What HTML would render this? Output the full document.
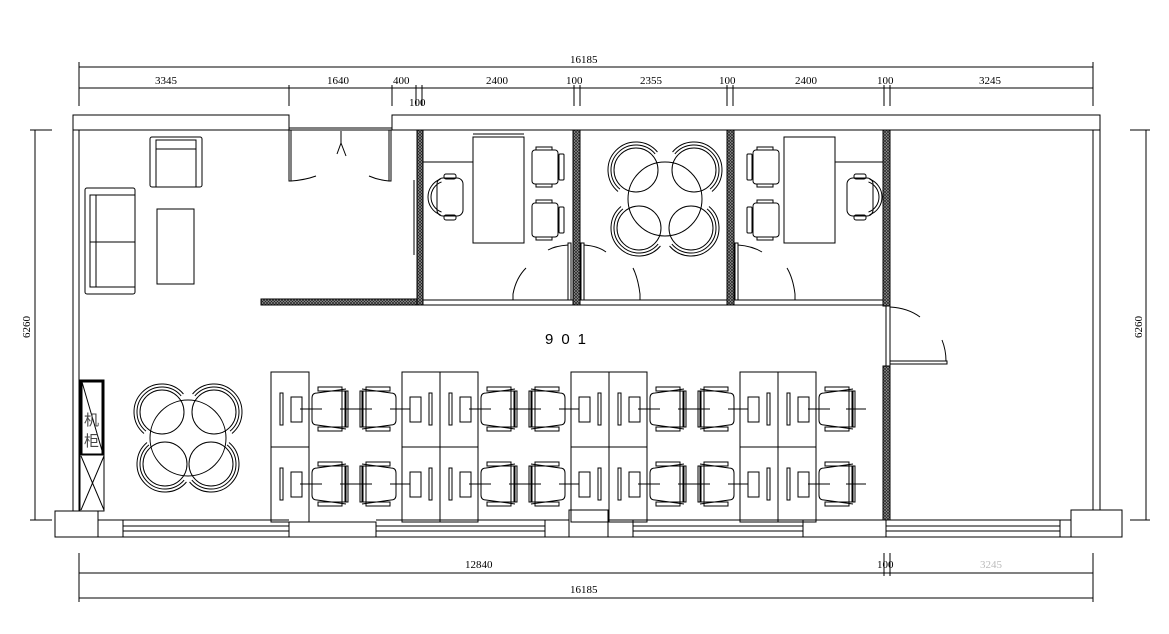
<!DOCTYPE html>
<html><head><meta charset="utf-8"><style>
html,body{margin:0;padding:0;background:#fff}
svg{display:block}
text{font-family:"Liberation Serif","Noto Serif CJK SC",serif;font-size:11px;fill:#000}
</style></head><body>
<svg id="s" width="1169" height="634" viewBox="0 0 1169 634" xmlns="http://www.w3.org/2000/svg">
<defs>
<pattern id="h" width="3" height="3" patternUnits="userSpaceOnUse"><rect width="3" height="3" fill="#999"/><path d="M0 0L3 3M3 0L0 3" stroke="#222" stroke-width="0.7"/></pattern>
</defs>
<g id="g" fill="none" stroke="#000" stroke-width="1">
<line x1="79" y1="67" x2="1093" y2="67"/>
<line x1="79" y1="88" x2="1093" y2="88"/>
<line x1="79" y1="62" x2="79" y2="106"/>
<line x1="1093" y1="62" x2="1093" y2="106"/>
<line x1="289" y1="85" x2="289" y2="106"/>
<line x1="392" y1="85" x2="392" y2="106"/>
<line x1="416" y1="85" x2="416" y2="106"/><line x1="422" y1="85" x2="422" y2="106"/>
<line x1="574" y1="85" x2="574" y2="106"/><line x1="580" y1="85" x2="580" y2="106"/>
<line x1="727" y1="85" x2="727" y2="106"/><line x1="733" y1="85" x2="733" y2="106"/>
<line x1="884" y1="85" x2="884" y2="106"/><line x1="890" y1="85" x2="890" y2="106"/>
<line x1="79" y1="573" x2="1093" y2="573"/>
<line x1="79" y1="598" x2="1093" y2="598"/>
<line x1="79" y1="553" x2="79" y2="602"/>
<line x1="1093" y1="553" x2="1093" y2="602"/>
<line x1="884" y1="553" x2="884" y2="576"/><line x1="890" y1="553" x2="890" y2="576"/>
<line x1="35" y1="130" x2="35" y2="520"/><line x1="30" y1="130" x2="52" y2="130"/><line x1="30" y1="520" x2="52" y2="520"/>
<line x1="1146" y1="130" x2="1146" y2="520"/><line x1="1130" y1="130" x2="1150" y2="130"/><line x1="1130" y1="520" x2="1150" y2="520"/>
<path d="M73 130 L73 115 L289 115 L289 130"/>
<path d="M392 130 L392 115 L1100 115 L1100 510"/>
<line x1="73" y1="130" x2="1100" y2="130"/>
<line x1="289" y1="128" x2="392" y2="128"/>
<line x1="73" y1="130" x2="73" y2="511"/>
<line x1="79" y1="130" x2="79" y2="511"/>
<line x1="1093" y1="130" x2="1093" y2="510"/>
<rect x="289" y="130" width="2" height="51"/>
<rect x="389" y="130" width="2" height="51"/>
<path d="M291 181 Q305 180 316 176"/>
<path d="M389 181 Q378 180 369 176"/>
<path d="M341 131 L341 143 L337 154 M341 143 L346 156"/>
<rect x="55" y="511" width="43" height="26"/>
<rect x="98" y="520" width="25" height="17"/>
<line x1="123" y1="520" x2="289" y2="520"/><line x1="123" y1="526" x2="289" y2="526"/><line x1="123" y1="531" x2="289" y2="531"/><line x1="123" y1="537" x2="289" y2="537"/>
<rect x="289" y="522" width="87" height="15"/>
<line x1="376" y1="520" x2="545" y2="520"/><line x1="376" y1="526" x2="545" y2="526"/><line x1="376" y1="531" x2="545" y2="531"/><line x1="376" y1="537" x2="545" y2="537"/>
<rect x="545" y="520" width="24" height="17"/>
<rect x="569" y="510" width="39" height="27"/>
<rect x="608" y="520" width="25" height="17"/>
<line x1="633" y1="520" x2="803" y2="520"/><line x1="633" y1="526" x2="803" y2="526"/><line x1="633" y1="531" x2="803" y2="531"/><line x1="633" y1="537" x2="803" y2="537"/>
<rect x="803" y="520" width="83" height="17"/>
<line x1="886" y1="520" x2="1060" y2="520"/><line x1="886" y1="526" x2="1060" y2="526"/><line x1="886" y1="531" x2="1060" y2="531"/><line x1="886" y1="537" x2="1060" y2="537"/>
<rect x="1060" y="520" width="11" height="17"/>
<rect x="1071" y="510" width="51" height="27"/>
<rect x="417" y="130" width="6" height="175" fill="url(#h)"/>
<rect x="573" y="130" width="7" height="175" fill="url(#h)"/>
<rect x="727" y="130" width="7" height="175" fill="url(#h)"/>
<rect x="883" y="130" width="7" height="176" fill="url(#h)"/>
<rect x="883" y="366" width="7" height="154" fill="url(#h)"/>
<rect x="261" y="299" width="156" height="6" fill="url(#h)"/>
<line x1="414" y1="180" x2="414" y2="255"/>
<line x1="423" y1="300" x2="573" y2="300"/><line x1="423" y1="305" x2="573" y2="305"/>
<line x1="580" y1="300" x2="727" y2="300"/><line x1="580" y1="305" x2="727" y2="305"/>
<line x1="734" y1="300" x2="883" y2="300"/><line x1="734" y1="305" x2="883" y2="305"/>
<path d="M513 300 L513 294 Q516 278 526 268"/>
<rect x="568" y="243" width="3" height="57"/><path d="M568 245 Q555 246 548 250"/>
<rect x="581" y="243" width="3" height="57"/><path d="M584 245 Q598 246 606 252"/>
<path d="M640 300 L640 294 Q638 278 633 268"/>
<rect x="735" y="243" width="3" height="57"/><path d="M738 245 Q752 246 762 252"/>
<path d="M795 300 L795 294 Q793 278 787 268"/>
<line x1="886" y1="306" x2="886" y2="366"/><line x1="890" y1="306" x2="890" y2="366"/>
<rect x="890" y="361" width="57" height="3"/>
<path d="M890 307 Q908 308 920 317"/>
<path d="M942 340 Q946 350 946 361"/>
<rect x="150" y="137" width="52" height="50" rx="2"/>
<rect x="156" y="140" width="40" height="47"/>
<line x1="156" y1="149" x2="196" y2="149"/>
<rect x="85" y="188" width="50" height="106" rx="2"/>
<rect x="90" y="195" width="45" height="92"/>
<line x1="96" y1="195" x2="96" y2="287"/>
<line x1="90" y1="242" x2="135" y2="242"/>
<rect x="157" y="209" width="37" height="75"/>
<rect x="473" y="137" width="51" height="106"/>
<line x1="423" y1="162" x2="473" y2="162"/>
<line x1="473" y1="134" x2="524" y2="134"/>
<rect x="784" y="137" width="51" height="106"/>
<line x1="835" y1="162" x2="883" y2="162"/>
<rect x="80" y="380" width="24" height="131"/>
<rect x="81.5" y="381.5" width="21" height="73" stroke-width="2"/>
<line x1="82" y1="382" x2="103" y2="454"/>
<line x1="81" y1="456" x2="104" y2="510"/><line x1="104" y1="456" x2="81" y2="510"/>
</g>
<text x="155" y="84" >3345</text>
<text x="327" y="84">1640</text>
<text x="393" y="84">400</text>
<text x="409" y="106">100</text>
<text x="486" y="84">2400</text>
<text x="566" y="84">100</text>
<text x="640" y="84">2355</text>
<text x="719" y="84">100</text>
<text x="795" y="84">2400</text>
<text x="877" y="84">100</text>
<text x="979" y="84">3245</text>
<text x="570" y="63">16185</text>
<text x="465" y="568">12840</text>
<text x="877" y="568">100</text>
<text x="980" y="568" style="fill:#bbb">3245</text>
<text x="570" y="593">16185</text>
<text transform="translate(30 338) rotate(-90)">6260</text>
<text transform="translate(1142 338) rotate(-90)">6260</text>
<text x="545" y="344" style="font-family:'Liberation Sans',sans-serif;font-size:15px;letter-spacing:8px">901</text>
<text x="84" y="425" style="font-family:'Liberation Sans','Noto Sans CJK SC',sans-serif;font-size:15px;fill:#444">机</text>
<text x="84" y="446" style="font-family:'Liberation Sans','Noto Sans CJK SC',sans-serif;font-size:15px;fill:#444">柜</text>
</svg>
<script>
var g=document.getElementById('g');var NS='http://www.w3.org/2000/svg';
function el(t,a){var e=document.createElementNS(NS,t);for(var k in a)e.setAttribute(k,a[k]);g.appendChild(e);return e;}
function R(x,y,w,h,rx){el('rect',{x:x,y:y,width:w,height:h,rx:rx||0});}
function L(a,b,c,d){el('line',{x1:a,y1:b,x2:c,y2:d});}
function C(x,y,r){el('circle',{cx:x,cy:y,r:r});}
function arc(cx,cy,r,a1,a2){var p=function(a){return [cx+r*Math.cos(a*Math.PI/180),cy+r*Math.sin(a*Math.PI/180)]};var s=p(a1),e=p(a2);el('path',{d:'M'+s[0]+' '+s[1]+' A'+r+' '+r+' 0 '+((a2-a1)>180?1:0)+' 1 '+e[0]+' '+e[1]});}
function roundTable(cx,cy,R0,off,r){C(cx,cy,R0);
 [[-off,-off,225],[off,-off,315],[-off+3,off,135],[off-3,off,45]].forEach(function(q){var x=cx+q[0],y=cy+q[1],c=q[2];C(x,y,r);arc(x,y,r+3,c-95,c+95);arc(x,y,r+6,c-95,c+95);});}
roundTable(188,438,38,26,22);
roundTable(665,199,37,29,22);
function guest(x,y,dir){R(x,y,26,34,3);if(dir>0){R(x+27,y+4,5,26,1);}else{R(x-6,y+4,5,26,1);}R(x+4,y-3,16,3);R(x+4,y+34,16,3);}
guest(532,150,1);guest(532,203,1);
guest(753,150,-1);guest(753,203,-1);
function exec(x,y,dir){R(x,y,26,38,6);R(x+7,y-4,12,5,2);R(x+7,y+37,12,5,2);if(dir<0){arc(x+10,y+19,19,110,250);arc(x+10,y+19,16,110,250);}else{arc(x+16,y+19,19,-70,70);arc(x+16,y+19,16,-70,70);}}
exec(437,178,-1);exec(847,178,1);
function table(x,side){[372,447].forEach(function(y){R(x,y,38,75);var cy=y+37;if(side>0){R(x+9,cy-16,3,32);R(x+20,cy-12,11,25);}else{R(x+27,cy-16,3,32);R(x+8,cy-12,11,25);}});}
function chair(x,cy,dir){el('path',{d:dir>0?('M'+(x+34)+' '+(cy-20)+' L'+(x+5)+' '+(cy-16)+' Q'+x+' '+(cy-16)+' '+x+' '+(cy-11)+' L'+x+' '+(cy+11)+' Q'+x+' '+(cy+16)+' '+(x+5)+' '+(cy+16)+' L'+(x+34)+' '+(cy+20)):('M'+x+' '+(cy-20)+' L'+(x+29)+' '+(cy-16)+' Q'+(x+34)+' '+(cy-16)+' '+(x+34)+' '+(cy-11)+' L'+(x+34)+' '+(cy+11)+' Q'+(x+34)+' '+(cy+16)+' '+(x+29)+' '+(cy+16)+' L'+x+' '+(cy+20))});
 if(dir>0){R(x+30,cy-18,4,36);R(x+33,cy-18,3,36);R(x+6,cy-22,24,4);R(x+6,cy+18,24,4);}else{R(x,cy-18,4,36);R(x-2,cy-18,3,36);R(x+4,cy-22,24,4);R(x+4,cy+18,24,4);}}
[[271,1],[402,-1],[440,1],[571,-1],[609,1],[740,-1],[778,1]].forEach(function(t){table(t[0],t[1]);});
[409,484].forEach(function(cy){
 [[312,1],[362,-1],[481,1],[531,-1],[650,1],[700,-1],[819,1]].forEach(function(c){chair(c[0],cy,c[1]);});
 L(300,cy,322,cy);L(340,cy,372,cy);L(390,cy,410,cy);
 L(469,cy,491,cy);L(509,cy,541,cy);L(559,cy,579,cy);
 L(638,cy,660,cy);L(678,cy,710,cy);L(728,cy,748,cy);
 L(808,cy,830,cy);L(846,cy,866,cy);
});
</script>
</body></html>
